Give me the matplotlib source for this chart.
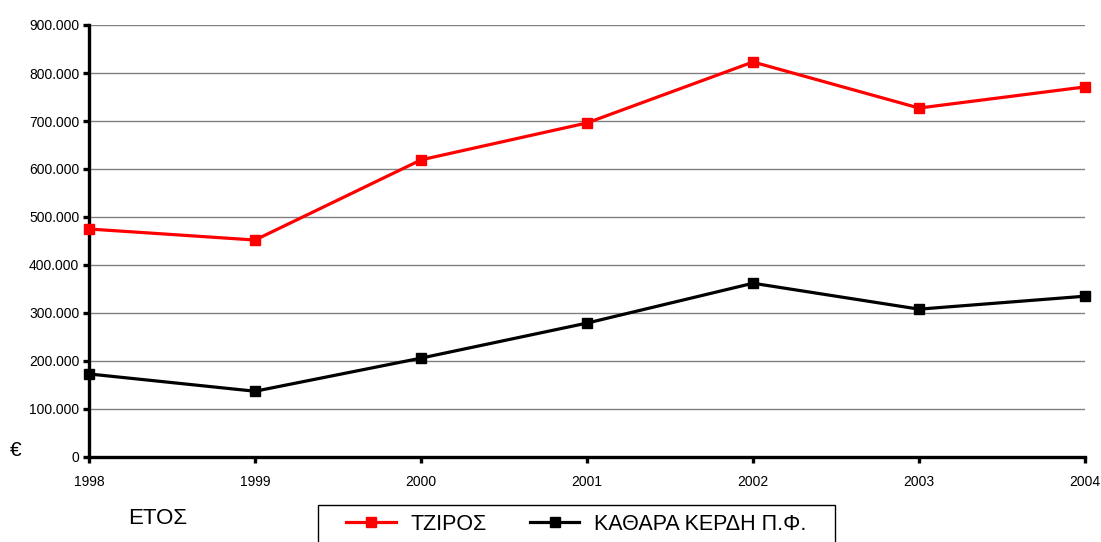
import matplotlib.pyplot as plt
from matplotlib.ticker import FuncFormatter
from matplotlib.patches import Rectangle

plt.rcParams['font.family'] = ['Liberation Sans', 'DejaVu Sans']

# δεδομένα
years = [1998, 1999, 2000, 2001, 2002, 2003, 2004]
tziros = [475000, 452000, 619000, 696000, 823000, 727000, 771000]
kerdh = [173000, 137000, 206000, 279000, 362000, 308000, 335000]

fig = plt.figure(figsize=(11.01, 5.42), dpi=100)
ax = fig.add_axes([89 / 1101, 85 / 542, 996 / 1101, 432 / 542])

ax.plot(years, tziros, color='#ff0000', lw=2.3, marker='s', ms=7, label='ΤΖΙΡΟΣ', clip_on=False, zorder=3)
ax.plot(years, kerdh, color='black', lw=2.3, marker='s', ms=7, label='ΚΑΘΑΡΑ ΚΕΡΔΗ Π.Φ.', clip_on=False, zorder=3)

ax.set_xlim(1998, 2004)
ax.set_ylim(0, 900000)
ax.set_xticks(years)
ax.set_yticks(range(0, 900001, 100000))
ax.yaxis.set_major_formatter(FuncFormatter(lambda v, p: '0' if v == 0 else f'{int(v):,}'.replace(',', '.')))
ax.grid(axis='y', color='#808080', lw=1)
ax.set_axisbelow(True)

for s in ['top', 'right']:
    ax.spines[s].set_visible(False)
for s in ['left', 'bottom']:
    ax.spines[s].set_linewidth(2.4)
ax.tick_params(axis='both', which='major', labelsize=10, width=2.4, length=4, direction='out')
ax.tick_params(axis='x', pad=9)
ax.tick_params(axis='y', pad=3)

fig.text(10 / 1101, 1 - 450 / 542, '€', fontsize=15, va='center', ha='left')
fig.text(128 / 1101, 1 - 518 / 542, 'ΕΤΟΣ', fontsize=16, va='center', ha='left')

# πλαίσιο υπομνήματος (κομμένο στο κάτω μέρος)
fig.patches.append(Rectangle((318 / 1101, -0.05), (835 - 318) / 1101, 0.05 + 37 / 542,
                             transform=fig.transFigure, fill=False, edgecolor='black', lw=1))
fig.legend(loc='center left', bbox_to_anchor=(346 / 1101, 1 - 524 / 542), ncol=2,
           fontsize=15.5, frameon=False, borderpad=0, borderaxespad=0,
           columnspacing=2.0, handlelength=2.3, handletextpad=0.7)

fig.savefig('out.png', dpi=100)
